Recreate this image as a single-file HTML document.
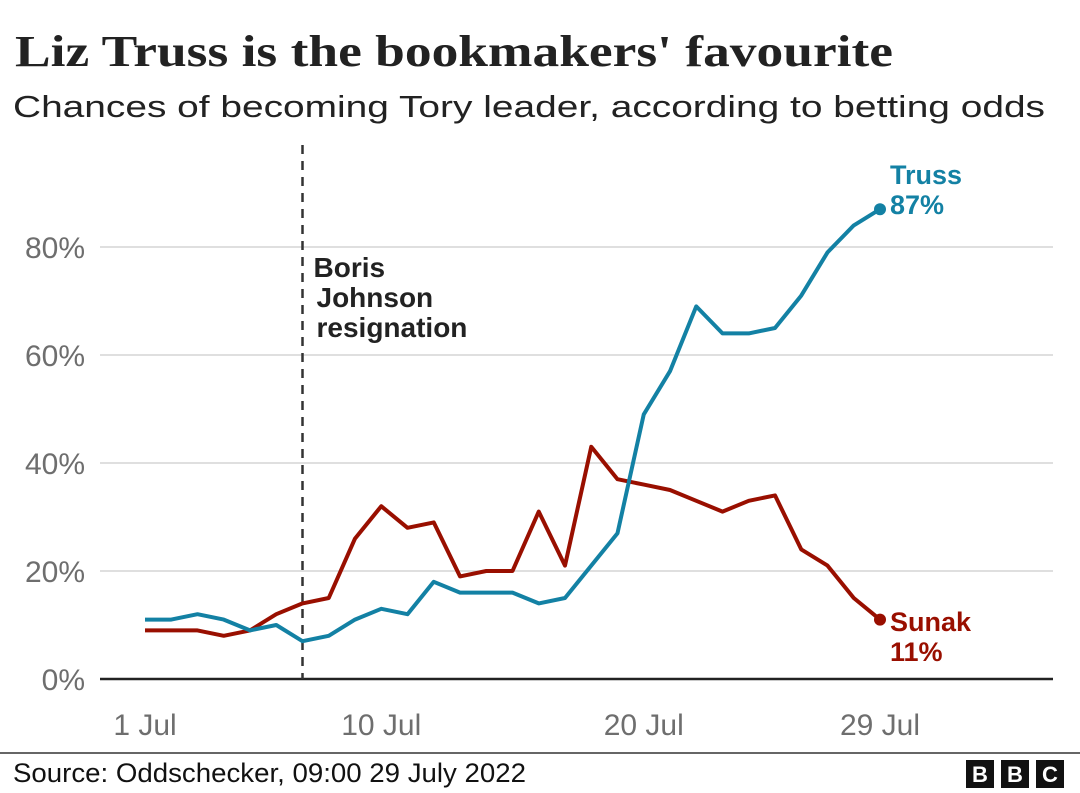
<!DOCTYPE html>
<html><head><meta charset="utf-8"><style>
html,body{margin:0;padding:0;background:#fff}
svg{display:block}
</style></head><body>
<svg id="chart" width="1080" height="793" xmlns="http://www.w3.org/2000/svg" font-family="Liberation Sans, DejaVu Sans, sans-serif">
<text x="15" y="66" font-family="Liberation Serif, serif" font-weight="bold" font-size="44" fill="#222" textLength="878" lengthAdjust="spacingAndGlyphs">Liz Truss is the bookmakers' favourite</text>
<text x="13" y="117" font-size="31" fill="#222" textLength="1032" lengthAdjust="spacingAndGlyphs">Chances of becoming Tory leader, according to betting odds</text>
<g id="grid"></g>
<g id="yaxis"></g>
<g id="xaxis"></g>
<g id="series"></g>
<line x1="0" y1="753" x2="1080" y2="753" stroke="#333" stroke-width="1.5"/>
<text x="13" y="782" font-size="27" fill="#111" textLength="513" lengthAdjust="spacingAndGlyphs">Source: Oddschecker, 09:00 29 July 2022</text>
<g>
<rect x="966" y="760" width="28" height="28" fill="#111"/><text x="980" y="782" text-anchor="middle" font-weight="bold" font-size="22" fill="#fff">B</text>
<rect x="1001" y="760" width="28" height="28" fill="#111"/><text x="1015" y="782" text-anchor="middle" font-weight="bold" font-size="22" fill="#fff">B</text>
<rect x="1036" y="760" width="28" height="28" fill="#111"/><text x="1050" y="782" text-anchor="middle" font-weight="bold" font-size="22" fill="#fff">C</text>
</g>
</svg>
<script>
const days = [1,2,3,4,5,6,7,8,9,10,11,12,13,14,15,16,17,18,19,20,21,22,23,24,25,26,27,28,29];
const trussValues = [11,11,12,11,9,10,7,8,11,13,12,18,16,16,16,14,15,21,27,49,57,69,64,64,65,71,79,84,87];
const sunakValues = [9,9,9,8,9,12,14,15,26,32,28,29,19,20,20,31,21,43,37,36,35,33,31,33,34,24,21,15,11];
const yTicks = [0,20,40,60,80];
const yTickLabels = ['0%','20%','40%','60%','80%'];
const xTicks = [1,10,20,29];
const xTickLabels = ['1 Jul','10 Jul','20 Jul','29 Jul'];
const resignationDay = 7;

const NS='http://www.w3.org/2000/svg';
const x = d => 145 + (d-1)*26.25;
const y = v => 679 - v*5.4;
function mk(tag, parent, attrs){const e=document.createElementNS(NS,tag);for(const k in attrs)e.setAttribute(k,attrs[k]);parent.appendChild(e);return e;}
const grid=document.getElementById('grid'), ya=document.getElementById('yaxis'), xa=document.getElementById('xaxis'), ser=document.getElementById('series');

yTicks.forEach((t,i)=>{
  if(t!==0){const l=mk('line',grid,{x1:100,x2:1053,y1:y(t),y2:y(t),stroke:'#ccc','stroke-width':1.2});
  
  }
  const tx=mk('text',ya,{x:85,y:y(t)+11,'text-anchor':'end','font-size':30,fill:'#6e6e6e'});
  tx.textContent=yTickLabels[i];
  
  
});
xTicks.forEach((t,i)=>{
  const tx=mk('text',xa,{x:x(t),y:735,'text-anchor':'middle','font-size':30,fill:'#6e6e6e'});
  tx.textContent=xTickLabels[i];
  
  
});
const ax=mk('line',xa,{x1:100,x2:1053,y1:679,y2:679,stroke:'#222','stroke-width':2.5});



const dl=mk('line',ser,{x1:x(resignationDay),x2:x(resignationDay),y1:145,y2:679,stroke:'#333','stroke-width':2.5,'stroke-dasharray':'9,7'});


const ann=mk('text',ser,{x:x(resignationDay)+12,y:277,'font-size':28,'font-weight':'bold',fill:'#222'});


['Boris','Johnson','resignation'].forEach((s,i)=>{const ts=mk('tspan',ann,{x:x(resignationDay)+(i==0?11:14),dy:i?30:0});ts.textContent=s;});

function drawLine(vals,color,name){
  const p=mk('path',ser,{d:vals.map((v,i)=>(i?'L':'M')+x(days[i])+','+y(v)).join(' '),fill:'none',stroke:color,'stroke-width':4,'stroke-linejoin':'round'});
  
  
  const n=vals.length-1;
  const c=mk('circle',ser,{cx:x(days[n]),cy:y(vals[n]),r:6,fill:color});
  
  
}
drawLine(sunakValues,'#990f00','sunak');
drawLine(trussValues,'#1381a4','truss');

function label(lines,color,yy,name){
  const t=mk('text',ser,{x:890,y:yy,'font-size':27,'font-weight':'bold',fill:color});
  
  
  lines.forEach((s,i)=>{const ts=mk('tspan',t,{x:890,dy:i?30:0});ts.textContent=s;});
}
label(['Truss',trussValues[trussValues.length-1]+'%'],'#1381a4',184,'truss-label');
label(['Sunak',sunakValues[sunakValues.length-1]+'%'],'#990f00',631,'sunak-label');
</script>
</body></html>
